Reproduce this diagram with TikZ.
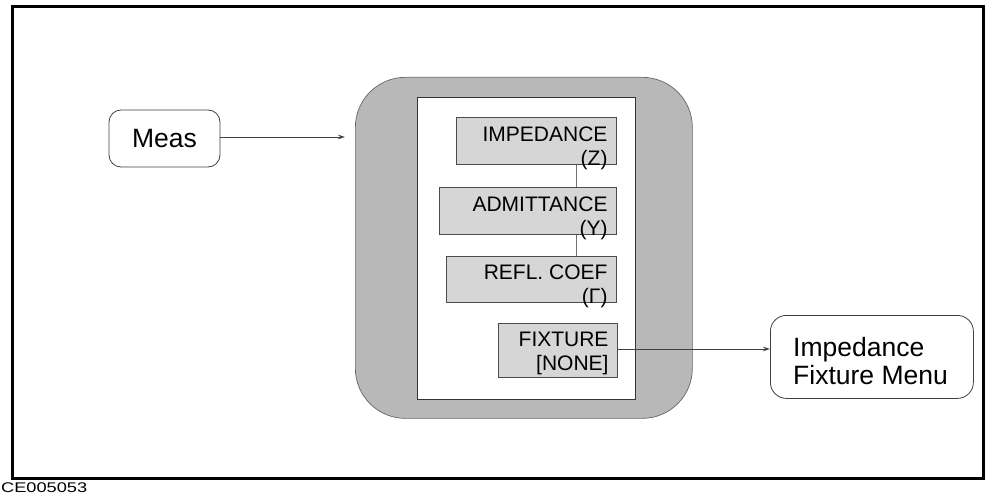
\documentclass[tikz,border=0pt]{standalone}
\usepackage{fontspec}
\usepackage{graphicx}
\setmainfont{Liberation Sans}
\usetikzlibrary{arrows.meta,calc}
\definecolor{outergray}{HTML}{B8B8B8}
\definecolor{softgray}{HTML}{D6D6D6}
\tikzset{
  conn/.style={draw=black!75, line width=0.8pt},
  arr/.style={conn, -{Stealth[length=7pt,width=4.5pt]}},
  softkey/.style={draw=black!70, line width=0.7pt, fill=softgray, inner sep=0pt, anchor=north west},
  keytext/.style={inner sep=0pt, anchor=north east, align=right, font=\fontsize{21}{24}\selectfont},
  bigtext/.style={font=\fontsize{26.5}{28}\selectfont},
}
\begin{document}
\begin{tikzpicture}[x=1pt,y=-1pt]
\useasboundingbox (0,0) rectangle (989,495);
% outer frame
\draw[line width=3pt] (12,6.5) rectangle (983,478);
\node[anchor=base west, inner sep=0pt, font=\fontsize{14}{14}\selectfont] (code) at (1,492) {\scalebox{1.3}[1]{CE005053}};
% gray rounded panel
\node[draw=black!60, line width=0.7pt, fill=outergray, rounded corners=50pt, inner sep=0pt,
      minimum width=337pt, minimum height=341pt, anchor=north west] (panel) at (355,77) {};
\node[draw=black!80, line width=0.8pt, fill=white, inner sep=0pt,
      minimum width=218pt, minimum height=302pt, anchor=north west] (screen) at (417,97) {};
% softkeys
\node[softkey, minimum width=160pt, minimum height=47pt] (imp) at (456,117) {};
\node[softkey, minimum width=177pt, minimum height=47pt] (adm) at (439,187) {};
\node[softkey, minimum width=170pt, minimum height=46pt] (refl) at (446,256) {};
\node[softkey, minimum width=119pt, minimum height=54pt] (fix) at (498,323) {};
\node[keytext] (impt) at ($(imp.north east)+(-9,10)$) {IMPEDANCE\\(Z)};
\node[keytext] (admt) at ($(adm.north east)+(-9,10)$) {ADMITTANCE\\(Y)};
\node[keytext] (reflt) at ($(refl.north east)+(-9,9)$) {REFL. COEF\\(Γ)};
\node[keytext] (fixt) at ($(fix.north east)+(-9,9)$) {FIXTURE\\{}[NONE]};
\draw[conn, draw=black!55] ($(imp.south east)+(-40,0)$) -- ($(adm.north east)+(-40,0)$);
\draw[conn, draw=black!55] ($(adm.south east)+(-40,0)$) -- ($(refl.north east)+(-40,0)$);
% side boxes
\node[draw=black!75, line width=0.8pt, rounded corners=12pt, minimum width=111pt, minimum height=57pt,
      inner sep=0pt, bigtext] (meas) at (164.5,138.5) {Meas};
\node[draw=black!75, line width=0.8pt, rounded corners=16pt, minimum width=203pt, minimum height=83pt,
      inner sep=0pt, anchor=north west] (menu) at (770,315) {};
\node[bigtext, inner sep=0pt, anchor=north west, align=left] (menut) at ($(menu.north west)+(23,22)$) {Impedance\\Fixture Menu};
% connectors
\draw[arr, shorten >=10pt] (meas.east |- 0,137) -- (panel.west |- 0,137);
\draw[arr] (fix.east |- 0,349) -- (menu.west |- 0,349);
\end{tikzpicture}
\end{document}
